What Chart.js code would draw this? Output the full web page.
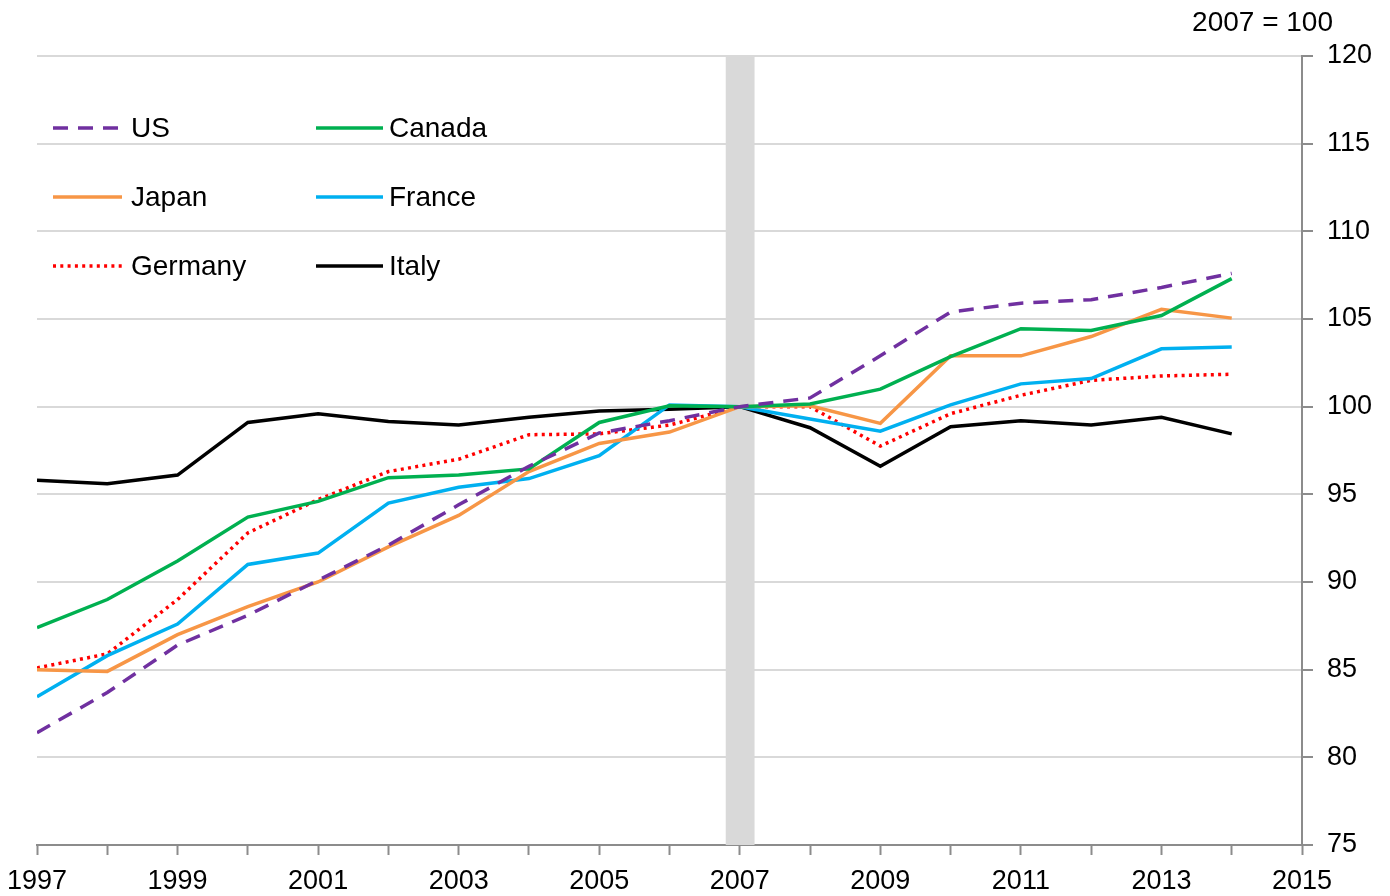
<!DOCTYPE html>
<html>
<head>
<meta charset="utf-8">
<script src="https://cdn.jsdelivr.net/npm/chart.js@4"></script>
<style>
  body { margin: 0; background: #fff; }
  #wrap { width: 1390px; height: 896px; }
</style>
</head>
<body>
<div id="wrap"><canvas id="chart" width="1390" height="896"></canvas></div>
<script>
// index, 2007 = 100
var years = [1997, 1998, 1999, 2000, 2001, 2002, 2003, 2004, 2005, 2006, 2007, 2008, 2009, 2010, 2011, 2012, 2013, 2014];
var us      = [81.4, 83.7, 86.4, 88.1, 90.1, 92.1, 94.4, 96.6, 98.5, 99.2, 100, 100.5, 102.9, 105.4, 105.9, 106.1, 106.8, 107.6];
var canada  = [87.4, 89.0, 91.2, 93.7, 94.6, 95.95, 96.1, 96.45, 99.1, 100.05, 100, 100.15, 101.0, 102.85, 104.45, 104.35, 105.2, 107.3];
var japan   = [85.0, 84.9, 87.0, 88.6, 90.0, 92.0, 93.8, 96.3, 97.9, 98.55, 100, 100.05, 99.05, 102.9, 102.9, 104.0, 105.55, 105.05];
var france  = [83.45, 85.8, 87.6, 91.0, 91.65, 94.5, 95.4, 95.9, 97.2, 100.1, 100, 99.3, 98.6, 100.1, 101.3, 101.6, 103.3, 103.4];
var germany = [85.1, 85.9, 89.0, 92.8, 94.7, 96.3, 97.0, 98.4, 98.45, 98.95, 100, 100, 97.75, 99.6, 100.65, 101.5, 101.75, 101.85];
var italy   = [95.8, 95.6, 96.1, 99.1, 99.6, 99.15, 98.95, 99.4, 99.75, 99.85, 100, 98.8, 96.6, 98.85, 99.2, 98.95, 99.4, 98.45];
var shadedYear = 2007;
var unitLabel = "2007 = 100";

var FONT = "'Liberation Sans', Arial, sans-serif";

function pts(vals) {
    return years.map(function (y, i) { return { x: y, y: vals[i] }; });
}

function series(label, vals, color, dash) {
    return {
        label: label,
        data: pts(vals),
        borderColor: color,
        backgroundColor: color,
        borderWidth: 3.5,
        borderDash: dash || [],
        borderCapStyle: "butt",
        pointRadius: 0,
        tension: 0,
        fill: false
    };
}

var shadePlugin = {
    id: "shade",
    beforeDatasetsDraw(chart) {
        var x = chart.scales.x, a = chart.chartArea, c = chart.ctx;
        var l = x.getPixelForValue(shadedYear - 0.2);
        var r = x.getPixelForValue(shadedYear + 0.21);
        c.save();
        c.fillStyle = "#d9d9d9";
        c.fillRect(l, a.top, r - l, a.bottom - a.top);
        c.restore();
    }
};

var legendPlugin = {
    id: "gridLegend",
    afterDraw(chart) {
        var c = chart.ctx;
        var lineX = [53, 316];
        var lineLen = [69, 67];
        var textX = [131, 389];
        var rows = [128, 197, 266];
        c.save();
        c.font = "28px " + FONT;
        c.textBaseline = "middle";
        c.fillStyle = "#000";
        chart.data.datasets.forEach(function (ds, i) {
            var col = i % 2, y = rows[Math.floor(i / 2)];
            c.beginPath();
            c.strokeStyle = ds.borderColor;
            c.lineWidth = ds.borderWidth;
            c.setLineDash(ds.borderDash);
            c.moveTo(lineX[col], y);
            c.lineTo(lineX[col] + lineLen[col], y);
            c.stroke();
            c.setLineDash([]);
            c.fillText(ds.label, textX[col], y + 1);
        });
        c.textAlign = "right";
        c.fillText(unitLabel, 1333, 23);
        c.restore();
    }
};

new Chart(document.getElementById("chart").getContext("2d"), {
    type: "line",
    data: {
        datasets: [
            series("US", us, "#7030a0", [15, 10]),
            series("Canada", canada, "#00b050"),
            series("Japan", japan, "#f79646"),
            series("France", france, "#00b0f0"),
            series("Germany", germany, "#ff0000", [3, 4.3]),
            series("Italy", italy, "#000000")
        ]
    },
    options: {
        responsive: false,
        animation: false,
        layout: { padding: { left: 37, top: 56, right: 0, bottom: 0 } },
        plugins: { legend: { display: false }, tooltip: { enabled: false } },
        scales: {
            x: {
                type: "linear",
                min: 1997,
                max: 2015,
                afterFit(scale) { scale.height = 51; scale.paddingLeft = 0; scale.paddingRight = 0; },
                grid: { drawOnChartArea: false, drawTicks: true, tickLength: 10, tickColor: "#8c8c8c", tickWidth: 2 },
                border: { color: "#8c8c8c", width: 2 },
                ticks: {
                    stepSize: 1,
                    autoSkip: false,
                    maxRotation: 0,
                    padding: 10,
                    color: "#000",
                    font: { family: FONT, size: 27 },
                    callback: function (v) { return (v - 1997) % 2 === 0 ? String(v) : ""; }
                }
            },
            y: {
                position: "right",
                min: 75,
                max: 120,
                afterFit(scale) { scale.width = 88; },
                grid: { color: "#d9d9d9", lineWidth: 2, tickLength: 11, tickColor: "#8c8c8c", tickWidth: 2 },
                border: { color: "#8c8c8c", width: 2 },
                ticks: {
                    stepSize: 5,
                    padding: 14,
                    color: "#000",
                    font: { family: FONT, size: 27 }
                }
            }
        }
    },
    plugins: [shadePlugin, legendPlugin]
});
</script>
</body>
</html>
